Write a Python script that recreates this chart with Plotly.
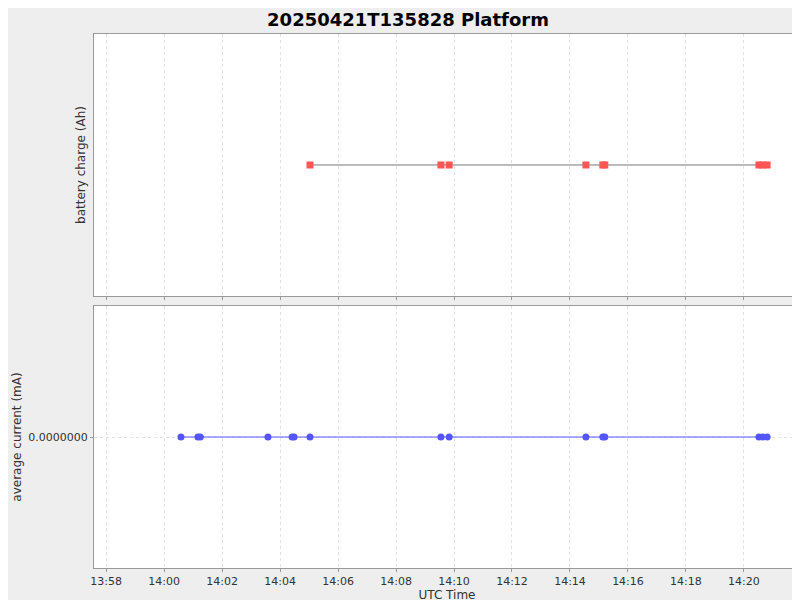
import plotly.graph_objects as go
from plotly.subplots import make_subplots

current_times = ["2025-04-21 14:00:35","2025-04-21 14:01:10","2025-04-21 14:01:15","2025-04-21 14:03:35",
                 "2025-04-21 14:04:25","2025-04-21 14:04:29","2025-04-21 14:05:02","2025-04-21 14:09:33",
                 "2025-04-21 14:09:50","2025-04-21 14:14:33","2025-04-21 14:15:08","2025-04-21 14:15:12",
                 "2025-04-21 14:20:31","2025-04-21 14:20:39","2025-04-21 14:20:48"]
current_values = [0.0]*15
charge_times = ["2025-04-21 14:05:02","2025-04-21 14:09:33","2025-04-21 14:09:50","2025-04-21 14:14:33",
                "2025-04-21 14:15:08","2025-04-21 14:15:12","2025-04-21 14:20:31","2025-04-21 14:20:39",
                "2025-04-21 14:20:48"]
charge_values = [0.0]*9

fig = make_subplots(rows=2, cols=1, shared_xaxes=True, vertical_spacing=0.0188)
fig.add_trace(go.Scatter(x=charge_times, y=charge_values, mode="lines+markers",
    line=dict(color="#777777", width=1), marker=dict(symbol="square", size=7, color="#ff5555")), 1, 1)
fig.add_trace(go.Scatter(x=current_times, y=current_values, mode="lines+markers",
    line=dict(color="#5555ff", width=1), marker=dict(symbol="circle", size=7, color="#5555ff")), 2, 1)

ax = dict(showgrid=True, gridcolor="#e2e2e2", griddash="3px,3px", gridwidth=1, automargin=False,
          showline=True, linecolor="#999999", mirror=True, zeroline=False)
xr = ["2025-04-21 13:57:35", "2025-04-21 14:21:56"]
fig.update_xaxes(**ax, range=xr, dtick=120000, tickformat="%H:%M", ticks="outside", ticklen=3, tickcolor="#999999")
fig.update_xaxes(showticklabels=False, row=1, col=1)
fig.update_xaxes(title_text="UTC Time", title_standoff=2, row=2, col=1)
fig.update_yaxes(**ax)
fig.update_yaxes(range=[-1, 1], showticklabels=False, showgrid=False, title_text="battery charge (Ah)",
                 title_standoff=4, row=1, col=1)
fig.update_yaxes(range=[-1, 1], tickvals=[0], ticktext=["0.0000000"], ticks="outside", ticklen=3,
                 tickcolor="#999999", title_text="average current (mA)", title_standoff=4, row=2, col=1)

fig.update_layout(width=800, height=600, showlegend=False,
    paper_bgcolor="#eeeeee", plot_bgcolor="white",
    margin=dict(l=86, r=8, t=26, b=40),
    font=dict(family="DejaVu Sans", size=11, color="#333333"),
    title=dict(text="<b>20250421T135828 Platform</b>", x=0.5, xanchor="center", y=0.98, yanchor="middle",
               font=dict(size=18, color="black")))
fig.update_xaxes(title_font_size=12, row=2, col=1)
fig.update_yaxes(title_font_size=12)
fig.write_html("out.html")
